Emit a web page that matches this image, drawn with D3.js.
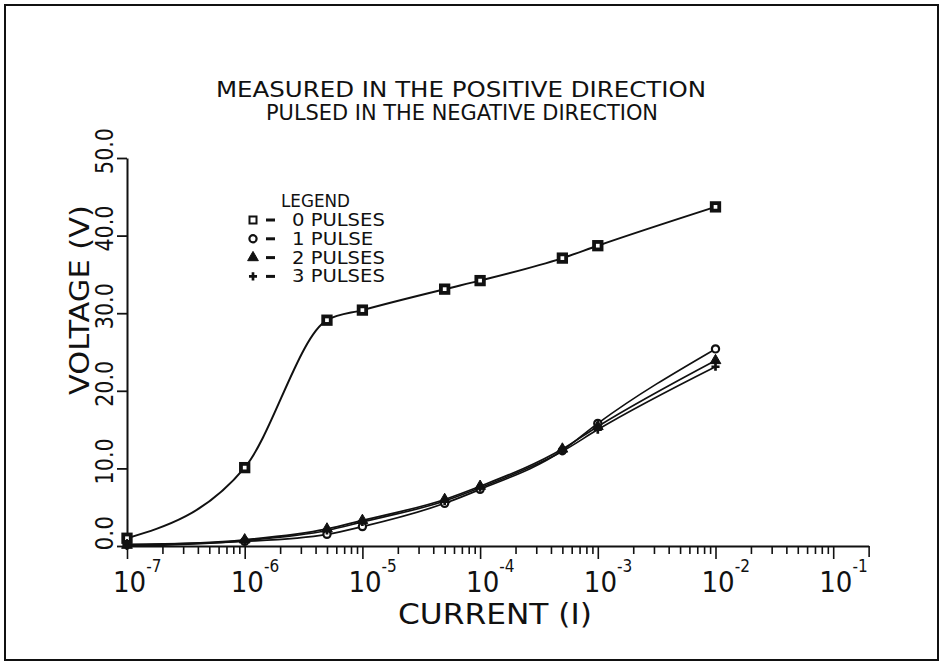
<!DOCTYPE html>
<html>
<head>
<meta charset="utf-8">
<script src="https://cdn.jsdelivr.net/npm/d3@7"></script>
<style>
  body { margin: 0; background: #fff; }
  svg text { font-family: "DejaVu Sans Condensed", "DejaVu Sans", sans-serif; font-stretch: condensed; fill: #111; }
</style>
</head>
<body>
<svg id="chart" width="944" height="667"></svg>
<script>
// values
var currents = [1e-7, 1e-6, 5e-6, 1e-5, 5e-5, 1e-4, 5e-4, 1e-3, 1e-2];
var pulses0 = [1.0, 10.1, 29.1, 30.4, 33.1, 34.2, 37.1, 38.7, 43.7];
var pulses1 = [0.2, 0.6, 1.5, 2.5, 5.5, 7.3, 12.3, 15.8, 25.4];
var pulses2 = [0.1, 0.8, 2.2, 3.3, 6.0, 7.7, 12.5, 15.4, 23.9];
var pulses3 = [0.0, 0.7, 2.0, 3.1, 5.8, 7.5, 12.2, 15.0, 23.1];
var seriesNames = ["0 PULSES", "1 PULSE", "2 PULSES", "3 PULSES"];
var yTicks = [0, 10, 20, 30, 40, 50];
var decades = [-7, -6, -5, -4, -3, -2, -1];

var svg = d3.select("#chart");
var decadeW = 117.7;
var x0 = 127;

var x = d3.scaleLog()
  .domain([1e-7, 0.2])
  .range([x0, x0 + (Math.log10(0.2) + 7) * decadeW]);
var y = d3.scaleLinear().domain([0, 50]).range([546, 158]);

// frame
svg.append("rect")
  .attr("x", 5).attr("y", 5).attr("width", 933).attr("height", 655)
  .attr("fill", "none").attr("stroke", "#111").attr("stroke-width", 2);

// title
svg.append("text").attr("x", 461).attr("y", 97).attr("text-anchor", "middle")
  .attr("font-size", 22).attr("textLength", 490).attr("lengthAdjust", "spacingAndGlyphs")
  .text("MEASURED IN THE POSITIVE DIRECTION");
svg.append("text").attr("x", 462).attr("y", 120).attr("text-anchor", "middle")
  .attr("font-size", 21).attr("textLength", 392).attr("lengthAdjust", "spacingAndGlyphs")
  .text("PULSED IN THE NEGATIVE DIRECTION");

// x axis, minor ticks 2..9 in each decade
var tickVals = [];
decades.forEach(function(k){
  for (var m = 1; m <= 9; m++) {
    var v = m * Math.pow(10, k);
    if (v <= 0.2 + 1e-12) tickVals.push(v);
  }
});
var xAxis = d3.axisBottom(x).tickValues(tickVals).tickFormat("").tickSizeOuter(0);
var gx = svg.append("g").attr("transform", "translate(0,546)").call(xAxis);
gx.select(".domain").attr("stroke", "#111").attr("stroke-width", 2);
gx.selectAll(".tick line")
  .attr("stroke", "#111").attr("stroke-width", 1.6)
  .attr("y2", function(d){
    var l = Math.log10(d);
    if (Math.abs(l - Math.round(l)) < 1e-9) return 13;
    if (d > 0.15) return 11;
    return 8;
  });

// decade labels 10^k
decades.forEach(function(k){
  var t = svg.append("text")
    .attr("x", x(Math.pow(10, k)) - 14).attr("y", 592)
    .attr("font-size", 29);
  t.append("tspan").text("10");
  t.append("tspan").attr("dy", -20).attr("font-size", 17).text(String(k));
});

svg.append("text").attr("x", 495).attr("y", 624).attr("text-anchor", "middle")
  .attr("font-size", 28).attr("textLength", 194).attr("lengthAdjust", "spacingAndGlyphs")
  .text("CURRENT (I)");

// y axis
var yAxis = d3.axisLeft(y).tickValues(yTicks).tickFormat("").tickSize(10).tickSizeOuter(0);
var gy = svg.append("g").attr("transform", "translate(" + x0 + ",0)").call(yAxis);
gy.select(".domain").attr("stroke", "#111").attr("stroke-width", 2);
gy.selectAll(".tick line").attr("stroke", "#111").attr("stroke-width", 1.8);

// labels hang below a point 30px above each tick (plotter style)
yTicks.forEach(function(v){
  var lbl = v.toFixed(1);
  svg.append("text")
    .attr("transform", "translate(113," + (y(v) - 30) + ") rotate(-90)")
    .attr("text-anchor", "end")
    .attr("font-size", 24)
    .attr("textLength", lbl.length * 11.5).attr("lengthAdjust", "spacingAndGlyphs")
    .text(lbl);
});

svg.append("text")
  .attr("transform", "translate(89,300) rotate(-90)")
  .attr("text-anchor", "middle")
  .attr("font-size", 27).attr("textLength", 190).attr("lengthAdjust", "spacingAndGlyphs")
  .text("VOLTAGE (V)");

// curves
var allSeries = [pulses0, pulses1, pulses2, pulses3];
var line = d3.line()
  .x(function(d){ return x(d[0]); })
  .y(function(d){ return y(d[1]); })
  .curve(d3.curveMonotoneX);

allSeries.forEach(function(vals, i){
  var pts = currents.map(function(c, j){ return [c, vals[j]]; });
  svg.append("path").datum(pts)
    .attr("d", line)
    .attr("fill", "none")
    .attr("stroke", "#111")
    .attr("stroke-width", i == 0 ? 2 : 1.7);
});

// markers
function drawMarker(g, i, cx, cy, legend) {
  if (i == 0) {
    var s = legend ? 7 : 7.5;
    g.append("rect").attr("x", cx - s / 2).attr("y", cy - s / 2).attr("width", s).attr("height", s)
      .attr("fill", "#fff").attr("stroke", "#111").attr("stroke-width", legend ? 2 : 3.8);
  } else if (i == 1) {
    g.append("circle").attr("cx", cx).attr("cy", cy).attr("r", 3.6)
      .attr("fill", "#fff").attr("stroke", "#111").attr("stroke-width", 2.2);
  } else if (i == 2) {
    g.append("path").attr("d", d3.symbol(d3.symbolTriangle, 50)())
      .attr("transform", "translate(" + cx + "," + cy + ")")
      .attr("fill", "#111").attr("stroke", "#111").attr("stroke-width", 1);
  } else {
    g.append("path").attr("d", d3.symbol(d3.symbolCross, 36)())
      .attr("transform", "translate(" + cx + "," + cy + ")")
      .attr("fill", "#111");
  }
}

var gm = svg.append("g");
allSeries.forEach(function(vals, i){
  currents.forEach(function(c, j){
    drawMarker(gm, i, x(c), y(vals[j]), false);
  });
});

// legend
var lg = svg.append("g");
lg.append("text").attr("x", 281).attr("y", 207).attr("font-size", 17)
  .attr("textLength", 69).attr("lengthAdjust", "spacingAndGlyphs").text("LEGEND");
seriesNames.forEach(function(name, i){
  var yy = 226 + i * 18.8;
  drawMarker(lg, i, 253, yy - 6, true);
  lg.append("line").attr("x1", 266).attr("x2", 275).attr("y1", yy - 6).attr("y2", yy - 6)
    .attr("stroke", "#111").attr("stroke-width", 3);
  lg.append("text").attr("x", 292).attr("y", yy).attr("font-size", 17)
    .attr("textLength", name.length * 11.6).attr("lengthAdjust", "spacingAndGlyphs")
    .text(name);
});
</script>
</body>
</html>
